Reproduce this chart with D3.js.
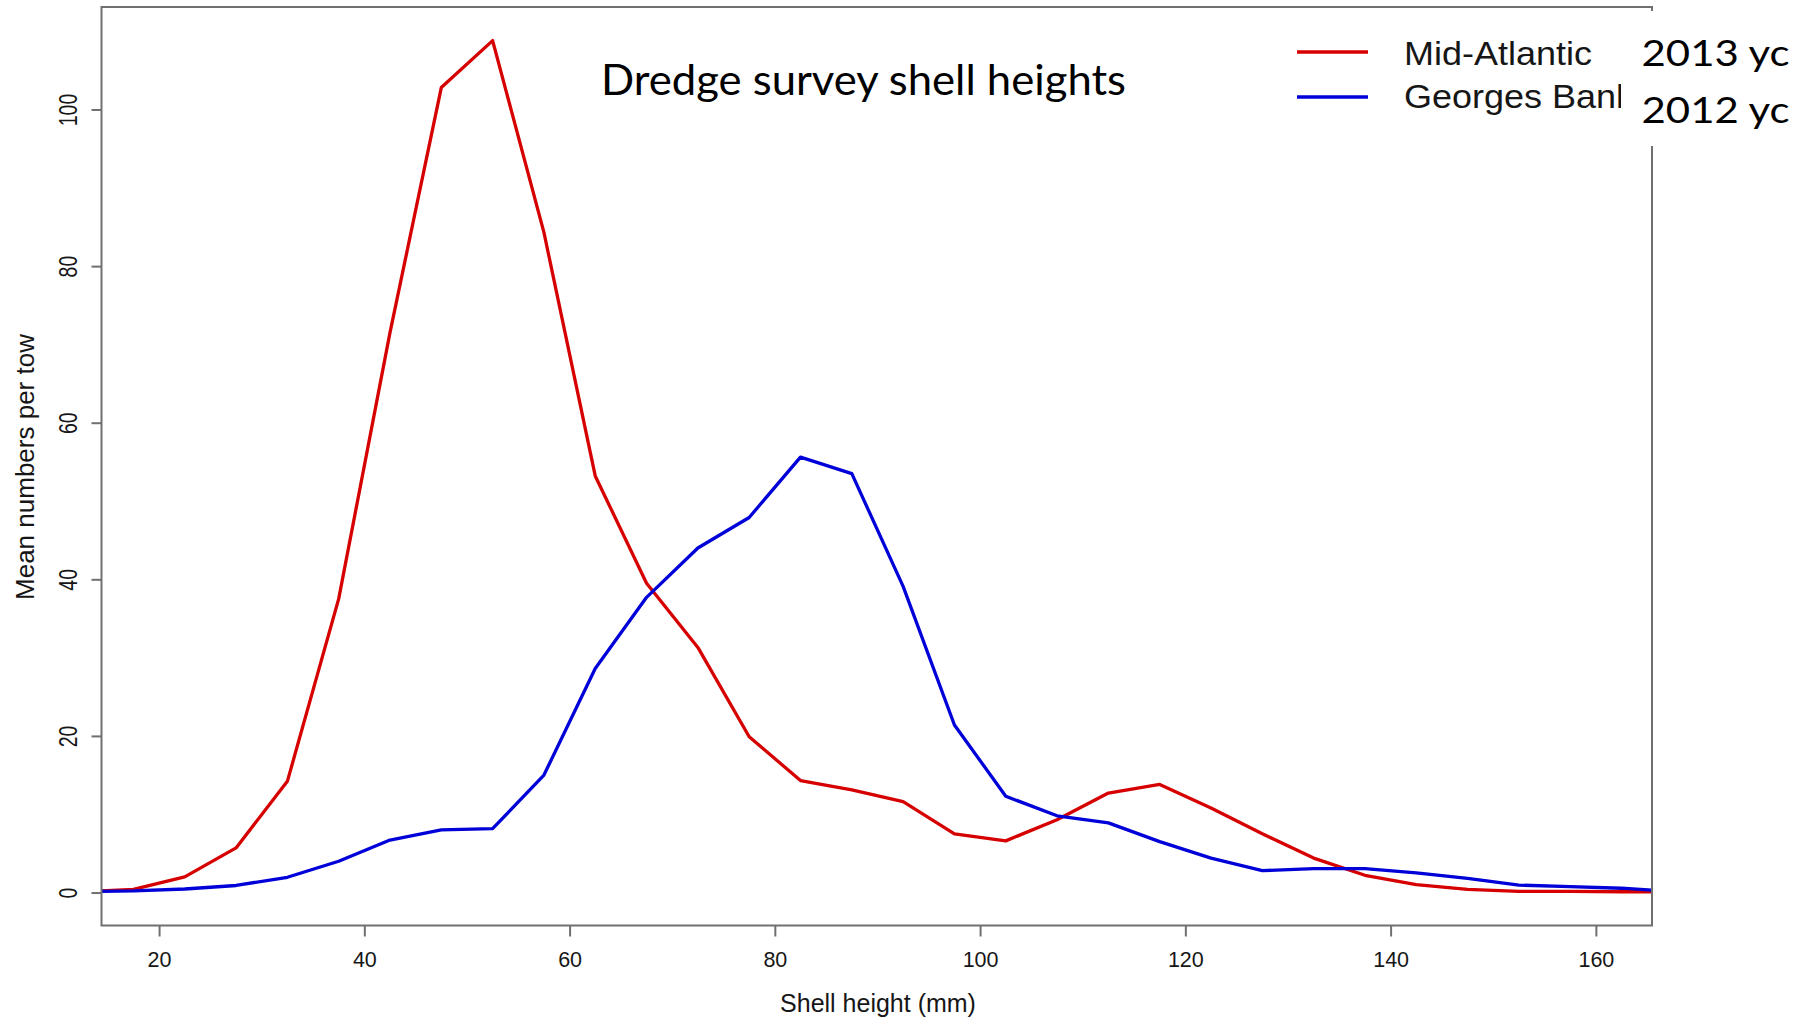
<!DOCTYPE html>
<html>
<head>
<meta charset="utf-8">
<title>Dredge survey shell heights</title>
<script src="https://cdn.jsdelivr.net/npm/d3@7"></script>
<style>
  html, body { margin: 0; padding: 0; background: #fff; }
  svg { display: block; }
  .r-text { font-family: "Liberation Sans", Arial, sans-serif; fill: #161616; }
  .slide-text { font-family: Lato, "Open Sans", sans-serif; fill: #000; }
</style>
</head>
<body>
<svg id="chart" width="1808" height="1021"></svg>
<script>
// Shell height bin midpoints (mm)
const shellHeight = [12.5, 17.5, 22.5, 27.5, 32.5, 37.5, 42.5, 47.5, 52.5, 57.5,
                     62.5, 67.5, 72.5, 77.5, 82.5, 87.5, 92.5, 97.5, 102.5, 107.5,
                     112.5, 117.5, 122.5, 127.5, 132.5, 137.5, 142.5, 147.5, 152.5,
                     157.5, 162.5, 167.5];

// Mean numbers per tow, Mid-Atlantic
const midAtlantic = [0.1, 0.4, 2.0, 5.7, 14.2, 37.5, 71.5, 102.8, 108.8, 84.3,
                     53.2, 39.5, 31.3, 19.9, 14.3, 13.1, 11.6, 7.5, 6.6, 9.3,
                     12.7, 13.8, 10.8, 7.5, 4.4, 2.2, 1.0, 0.4, 0.15,
                     0.15, 0.1, 0.1];

// Mean numbers per tow, Georges Bank
const georgesBank = [0.1, 0.2, 0.45, 0.9, 1.95, 4.0, 6.7, 8.0, 8.15, 15.0,
                     28.6, 37.7, 44.0, 47.9, 55.6, 53.5, 39.1, 21.4, 12.3, 9.8,
                     8.9, 6.5, 4.4, 2.8, 3.05, 3.05, 2.5, 1.8, 0.95,
                     0.75, 0.55, 0.15];

const xTicks = [20, 40, 60, 80, 100, 120, 140, 160];
const yTicks = [0, 20, 40, 60, 80, 100];

const seriesNames = ["Mid-Atlantic", "Georges Banks"];
const yearClassLabels = ["2013 yc", "2012 yc"];

const svg = d3.select("#chart");

const plot = { left: 101.5, right: 1652, top: 7, bottom: 925.5 };
const x = d3.scaleLinear().domain([14.39, 165.47]).range([plot.left, plot.right]);
const y = d3.scaleLinear().domain([-4.21, 113.09]).range([plot.bottom, plot.top]);

const frameColor = "#707070";
const colors = ["#d60000", "#0000d8"];

svg.append("defs").append("clipPath").attr("id", "plot-clip")
  .append("rect")
  .attr("x", plot.left).attr("y", plot.top)
  .attr("width", plot.right - plot.left).attr("height", plot.bottom - plot.top);

// Series lines
const line = d3.line()
  .x((d, i) => x(shellHeight[i]))
  .y(d => y(d));

const lines = svg.append("g").attr("clip-path", "url(#plot-clip)");
[midAtlantic, georgesBank].forEach((vals, k) => {
  lines.append("path")
    .datum(vals)
    .attr("d", line)
    .attr("fill", "none")
    .attr("stroke", colors[k])
    .attr("stroke-width", 3.3)
    .attr("stroke-linejoin", "round");
});

// Frame
svg.append("rect")
  .attr("x", plot.left).attr("y", plot.top)
  .attr("width", plot.right - plot.left).attr("height", plot.bottom - plot.top)
  .attr("fill", "none").attr("stroke", frameColor).attr("stroke-width", 2);

// X axis
const xAxis = svg.append("g")
  .attr("transform", `translate(0,${plot.bottom})`)
  .call(d3.axisBottom(x).tickValues(xTicks).tickSize(11).tickFormat(d3.format("d")));
xAxis.select(".domain").remove();
xAxis.selectAll(".tick line").attr("stroke", frameColor).attr("stroke-width", 2);
xAxis.selectAll(".tick text")
  .attr("class", "r-text")
  .attr("y", 41.5).attr("dy", 0)
  .style("font-size", "21.5px");

// Y axis (labels parallel to the axis)
const yAxis = svg.append("g")
  .attr("transform", `translate(${plot.left},0)`)
  .call(d3.axisLeft(y).tickValues(yTicks).tickSize(10).tickFormat(d3.format("d")));
yAxis.select(".domain").remove();
yAxis.selectAll(".tick line").attr("stroke", frameColor).attr("stroke-width", 2);
yAxis.selectAll(".tick text")
  .attr("class", "r-text")
  .attr("x", null).attr("dy", null)
  .attr("text-anchor", "middle")
  .attr("transform", "translate(-24.5,0) scale(1.28,1) rotate(-90)")
  .style("font-size", "19.5px");

// Axis titles
svg.append("text")
  .attr("class", "r-text")
  .attr("x", 878).attr("y", 1012)
  .attr("text-anchor", "middle")
  .style("font-size", "25px")
  .text("Shell height (mm)");

svg.append("text")
  .attr("class", "r-text")
  .attr("transform", "translate(33.5,467) rotate(-90)")
  .attr("text-anchor", "middle")
  .style("font-size", "26px")
  .text("Mean numbers per tow");

// Title
svg.append("text")
  .attr("class", "slide-text")
  .attr("x", 601).attr("y", 95)
  .attr("textLength", 525)
  .attr("lengthAdjust", "spacingAndGlyphs")
  .style("font-size", "42px")
  .text("Dredge survey shell heights");

// Legend
const legendRows = [52, 97];
const legendBaselines = [65, 107.5];
const legendWidths = [188, 248];
seriesNames.forEach((name, k) => {
  svg.append("line")
    .attr("x1", 1297).attr("x2", 1368)
    .attr("y1", legendRows[k]).attr("y2", legendRows[k])
    .attr("stroke", colors[k]).attr("stroke-width", 3.3);
  svg.append("text")
    .attr("class", "r-text")
    .attr("x", 1404).attr("y", legendBaselines[k])
    .attr("textLength", legendWidths[k])
    .attr("lengthAdjust", "spacingAndGlyphs")
    .style("font-size", "32.5px")
    .text(name);
});

// Year-class notes on a white panel at the top right
svg.append("rect")
  .attr("x", 1621).attr("y", 11)
  .attr("width", 1808 - 1621).attr("height", 135)
  .attr("fill", "#fff");

const ycBaselines = [65.7, 123.3];
yearClassLabels.forEach((t, k) => {
  svg.append("text")
    .attr("class", "slide-text")
    .attr("x", 1641.5).attr("y", ycBaselines[k])
    .attr("textLength", 148)
    .attr("lengthAdjust", "spacingAndGlyphs")
    .style("font-size", "37px")
    .text(t);
});
</script>
</body>
</html>
